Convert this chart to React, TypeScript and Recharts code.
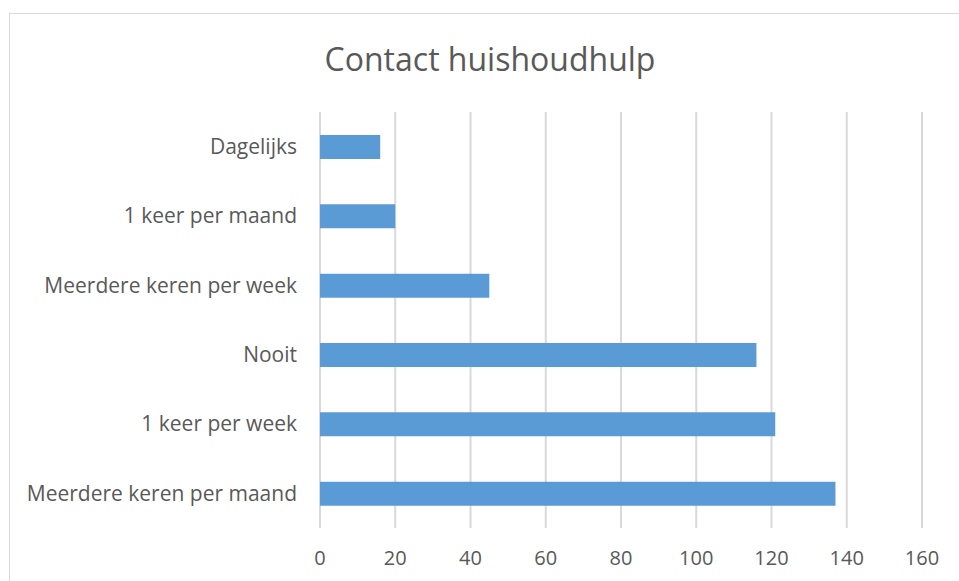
import React from "react";
import { BarChart, Bar, XAxis, YAxis, CartesianGrid } from "recharts";

const categories = [
  "Dagelijks",
  "1 keer per maand",
  "Meerdere keren per week",
  "Nooit",
  "1 keer per week",
  "Meerdere keren per maand",
];
const counts = [16, 20, 45, 116, 121, 137];
const xTicks = [0, 20, 40, 60, 80, 100, 120, 140, 160];

const data = categories.map((c, i) => ({ name: c, value: counts[i] }));

const FONT = "'Open Sans', 'Noto Sans', sans-serif";

export default function App() {
  return (
    <div style={{ position: "absolute", left: 0, top: 0, width: 959, height: 581, background: "#fff", overflow: "hidden", fontFamily: FONT }}>
      <div style={{ position: "absolute", left: 9, top: 13, width: 1000, height: 700, borderLeft: "1.5px solid #d9d9d9", borderTop: "1.5px solid #d9d9d9" }} />
      <div style={{ position: "absolute", left: 0, top: 37, width: 980, textAlign: "center", fontSize: 32, lineHeight: "44px", color: "#595959" }}>
        Contact huishoudhulp
      </div>
      <div style={{ position: "absolute", left: 0, top: 0 }}>
        <BarChart width={959} height={581} layout="vertical" data={data} margin={{ top: 112, right: 37, bottom: 0, left: 0 }}>
          <CartesianGrid horizontal={false} stroke="#d9d9d9" strokeWidth={2} />
          <XAxis type="number" domain={[0, 160]} ticks={xTicks} axisLine={false} tickLine={false} tickSize={0} tickMargin={23} height={53} tick={{ fill: "#595959", fontSize: 20, fontFamily: FONT }} interval={0} />
          <YAxis type="category" dataKey="name" width={320} axisLine={false} tickLine={false} tickSize={0} tickMargin={23} tick={{ fill: "#595959", fontSize: 21, fontFamily: FONT }} interval={0} />
          <Bar dataKey="value" fill="#5B9BD5" barSize={24} isAnimationActive={false} />
        </BarChart>
      </div>
    </div>
  );
}
